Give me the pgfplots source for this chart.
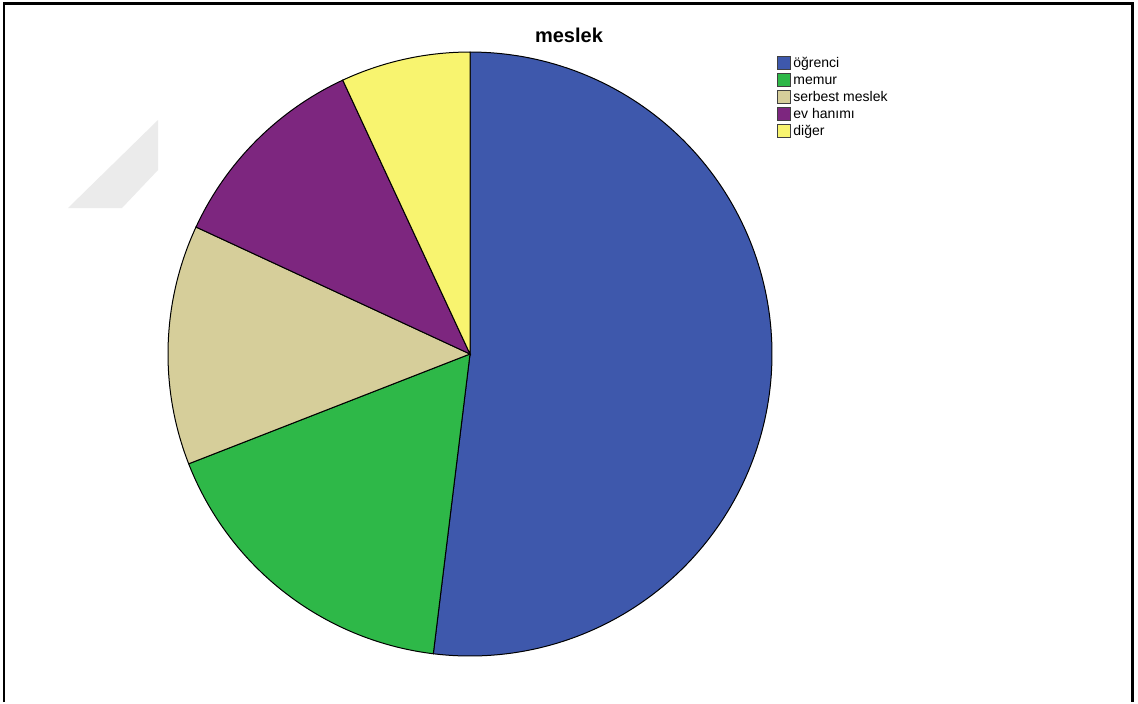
\documentclass[border=0pt]{standalone}
\usepackage{pgfplots}
\pgfplotsset{compat=1.18}
\usepackage{pgfplotstable}
\usepackage{fontspec}
\setmainfont{Liberation Sans}
\definecolor{cblue}{HTML}{3E58AC}
\definecolor{cgreen}{HTML}{2EB848}
\definecolor{ctan}{HTML}{D6CE9A}
\definecolor{cpurple}{HTML}{7D267F}
\definecolor{cyellow}{HTML}{F8F46F}
\definecolor{cwm}{HTML}{EBEBEB}

% share of each profession (percent), slices clockwise from 12 o'clock
\pgfplotstableread{
label pct
ogrenci 51.94
memur 17.14
serbest 12.83
evhanimi 11.17
diger 6.92
}\piedata
\pgfplotstablegetelem{0}{pct}\of\piedata \let\va\pgfplotsretval
\pgfplotstablegetelem{1}{pct}\of\piedata \let\vb\pgfplotsretval
\pgfplotstablegetelem{2}{pct}\of\piedata \let\vc\pgfplotsretval
\pgfplotstablegetelem{3}{pct}\of\piedata \let\vd\pgfplotsretval
\pgfplotstablegetelem{4}{pct}\of\piedata \let\ve\pgfplotsretval
\pgfmathsetmacro{\tot}{\va+\vb+\vc+\vd+\ve}
\pgfmathsetmacro{\aA}{\va/\tot*360}
\pgfmathsetmacro{\aB}{\aA+\vb/\tot*360}
\pgfmathsetmacro{\aC}{\aB+\vc/\tot*360}
\pgfmathsetmacro{\aD}{\aC+\vd/\tot*360}

\begin{document}
\begin{tikzpicture}
\begin{axis}[scale only axis, width=569pt, height=351pt,
  xmin=0, xmax=1138, ymin=0, ymax=702, y dir=reverse,
  hide axis, clip=false]
% background
\addplot[draw=none, fill=white] coordinates {(0,0) (1138,0) (1138,702) (0,702)} -- cycle;
% faint watermark
\addplot[draw=none, fill=cwm] coordinates {(158,120) (158,170) (122,208) (68,208)} -- cycle;
% pie slices
\addplot[fill=cblue, draw=black, line width=0.5pt, samples=150, domain=0:\aA]
  ({470+302*sin(x)},{354-302*cos(x)}) -- (470,354) -- cycle;
\addplot[fill=cgreen, draw=black, line width=0.5pt, samples=80, domain=\aA:\aB]
  ({470+302*sin(x)},{354-302*cos(x)}) -- (470,354) -- cycle;
\addplot[fill=ctan, draw=black, line width=0.5pt, samples=60, domain=\aB:\aC]
  ({470+302*sin(x)},{354-302*cos(x)}) -- (470,354) -- cycle;
\addplot[fill=cpurple, draw=black, line width=0.5pt, samples=60, domain=\aC:\aD]
  ({470+302*sin(x)},{354-302*cos(x)}) -- (470,354) -- cycle;
\addplot[fill=cyellow, draw=black, line width=0.5pt, samples=40, domain=\aD:360]
  ({470+302*sin(x)},{354-302*cos(x)}) -- (470,354) -- cycle;
% title
\node[anchor=base, font=\fontsize{10}{11}\selectfont\bfseries, inner sep=0pt] at (569,42) {meslek};
% legend
\filldraw[fill=cblue, draw=black!75, line width=0.4pt] (777,56) rectangle (790,69);
\filldraw[fill=cgreen, draw=black!75, line width=0.4pt] (777,73) rectangle (790,86);
\filldraw[fill=ctan, draw=black!75, line width=0.4pt] (777,90) rectangle (790,103);
\filldraw[fill=cpurple, draw=black!75, line width=0.4pt] (777,107) rectangle (790,120);
\filldraw[fill=cyellow, draw=black!75, line width=0.4pt] (777,124) rectangle (790,137);
\begin{scope}[every node/.style={anchor=base west, inner sep=0pt, font=\fontsize{7}{8}\selectfont}]
\node at (793,67.5) {öğrenci};
\node at (793,84.5) {memur};
\node at (793,101.5) {serbest meslek};
\node at (793,118.5) {ev hanımı};
\node at (793,135.5) {diğer};
\end{scope}
% frame
\draw[line width=1.1pt] (4,702) -- (4,3.5) -- (1132.5,3.5) -- (1132.5,702);
\end{axis}
\end{tikzpicture}
\end{document}
